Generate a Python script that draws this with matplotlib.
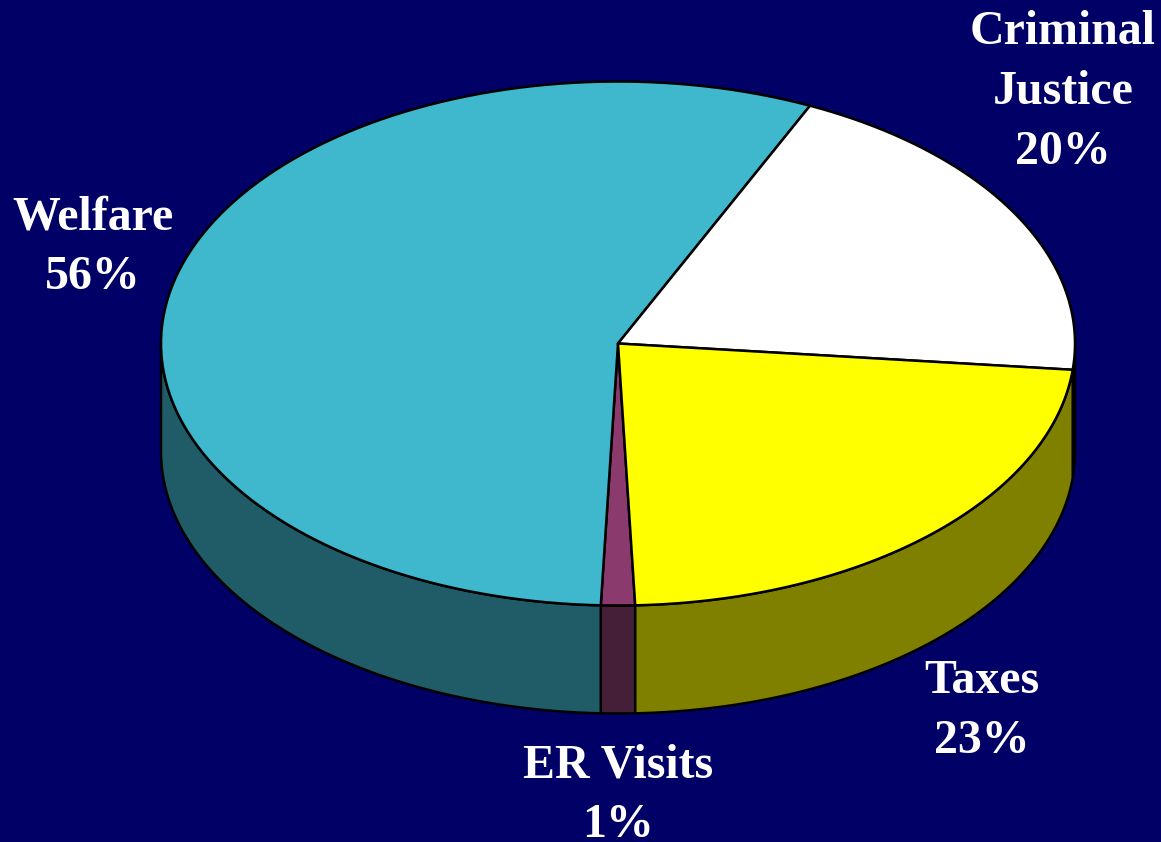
import matplotlib
matplotlib.use("Agg")
import matplotlib.pyplot as plt
import numpy as np
from matplotlib.patches import Polygon

# Slices, clockwise starting from the ER Visits slice
labels = ["ER Visits\n1%", "Welfare\n56%", "Criminal\nJustice\n20%", "Taxes\n23%"]
shares = [1.2, 56.3, 19.7, 22.8]  # printed labels are rounded
top_colors = ["#8B3A6E", "#3FB8CE", "#FFFFFF", "#FFFF00"]
side_colors = ["#451F38", "#205C67", "#808080", "#808000"]
label_pos = [(618, 795), (93, 247), (1063, 92), (982, 711)]

bg = "#000066"
cx, cy = 618, 343.5  # pie centre in pixels
rx, ry = 457, 262
depth = 108


def rim(a0, a1, n=120):
    t = np.radians(np.linspace(a0, a1, n))
    return cx + rx * np.cos(t), cy + ry * np.sin(t)


fig = plt.figure(figsize=(11.61, 8.42), dpi=100, facecolor=bg)
ax = fig.add_axes([0, 0, 1, 1])
ax.set_xlim(0, 1161)
ax.set_ylim(842, 0)  # y runs downward like the picture
ax.axis("off")

# angles grow clockwise on screen because y is flipped
edges = 90 - 0.5 * 3.6 * shares[0] + np.cumsum([0] + shares) * 3.6

# side walls first (only the front half of the rim shows)
for i in range(len(shares)):
    a0, a1 = edges[i], edges[i + 1]
    for k in (0, 360, -360):
        lo, hi = max(a0 + k, 0), min(a1 + k, 180)
        if lo < hi:
            x, y = rim(lo, hi)
            pts = np.r_[np.c_[x, y], np.c_[x[::-1], y[::-1] + depth]]
            ax.add_patch(Polygon(pts, closed=True, fc=side_colors[i], ec="black",
                                 lw=1.8, joinstyle="round"))

# top face
for i in range(len(shares)):
    x, y = rim(edges[i], edges[i + 1])
    pts = np.r_[[[cx, cy]], np.c_[x, y]]
    ax.add_patch(Polygon(pts, closed=True, fc=top_colors[i], ec="black",
                         lw=1.8, joinstyle="round"))

for (tx, ty), label in zip(label_pos, labels):
    ax.text(tx, ty, label, color="white", ha="center", va="center",
            family="Liberation Serif", fontweight="bold", fontsize=34.5,
            linespacing=1.46, clip_on=False)

fig.savefig("out.png", dpi=100, facecolor=bg)
